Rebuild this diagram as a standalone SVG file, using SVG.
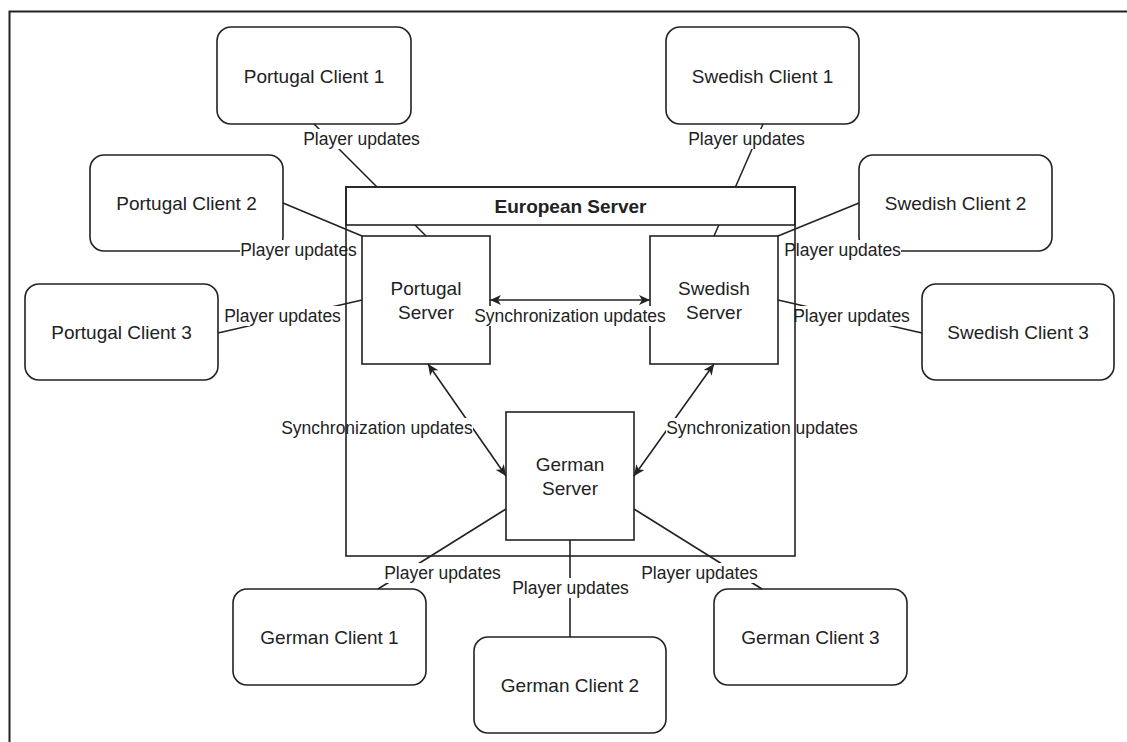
<svg xmlns="http://www.w3.org/2000/svg" width="1127" height="742" viewBox="0 0 1127 742">
  <style>
    .box { fill: #fff; stroke: #222; stroke-width: 1.6; }
    .client { fill: #fff; stroke: #222; stroke-width: 1.6; }
    .node-text { font-family: "Liberation Sans", Arial, sans-serif; font-size: 19px; fill: #222; text-anchor: middle; dominant-baseline: central; }
    .title { font-family: "Liberation Sans", Arial, sans-serif; font-size: 19px; font-weight: bold; fill: #222; text-anchor: middle; dominant-baseline: central; }
    .edge { stroke: #222; stroke-width: 1.6; fill: none; }
    .sync { stroke: #222; stroke-width: 1.6; fill: none; marker-start: url(#arrow); marker-end: url(#arrow); }
    .lbl { font-family: "Liberation Sans", Arial, sans-serif; font-size: 17.5px; fill: #222; text-anchor: middle; dominant-baseline: central; }
    .lbl-bg { fill: #fff; }
  </style>
  <defs>
    <marker id="arrow" viewBox="0 0 12 10" refX="11" refY="5" markerWidth="12" markerHeight="10" markerUnits="userSpaceOnUse" orient="auto-start-reverse">
      <path d="M0,0 L11,5 L0,10 L3,5 Z" fill="#222"/>
    </marker>
  </defs>

  <rect width="1127" height="742" fill="#fff"/>
  <!-- page frame -->
  <path d="M9.5,742 V11.5 H1127" fill="none" stroke="#222" stroke-width="2"/>

  <!-- clients -->
  <g id="portugal-client-1"><rect class="client" x="217" y="27" width="194" height="97" rx="14"/><text class="node-text" x="314" y="76">Portugal Client 1</text></g>
  <g id="portugal-client-2"><rect class="client" x="90" y="155" width="193" height="96" rx="14"/><text class="node-text" x="186.5" y="203">Portugal Client 2</text></g>
  <g id="portugal-client-3"><rect class="client" x="25" y="284" width="193" height="96" rx="14"/><text class="node-text" x="121.5" y="332">Portugal Client 3</text></g>
  <g id="swedish-client-1"><rect class="client" x="666" y="27" width="193" height="97" rx="14"/><text class="node-text" x="762.5" y="76">Swedish Client 1</text></g>
  <g id="swedish-client-2"><rect class="client" x="859" y="155" width="193" height="96" rx="14"/><text class="node-text" x="955.5" y="203">Swedish Client 2</text></g>
  <g id="swedish-client-3"><rect class="client" x="922" y="284" width="192" height="96" rx="14"/><text class="node-text" x="1018" y="332">Swedish Client 3</text></g>
  <g id="german-client-1"><rect class="client" x="233" y="589" width="193" height="96" rx="14"/><text class="node-text" x="329.5" y="637">German Client 1</text></g>
  <g id="german-client-2"><rect class="client" x="474" y="637" width="192" height="96" rx="14"/><text class="node-text" x="570" y="685">German Client 2</text></g>
  <g id="german-client-3"><rect class="client" x="714" y="589" width="193" height="96" rx="14"/><text class="node-text" x="810.5" y="637">German Client 3</text></g>

  <!-- regional servers -->
  <g id="portugal-server"><rect class="box" x="362" y="236" width="128" height="128"/><text class="node-text" x="426" y="288">Portugal</text><text class="node-text" x="426" y="312">Server</text></g>
  <g id="swedish-server"><rect class="box" x="650" y="236" width="128" height="128"/><text class="node-text" x="714" y="288">Swedish</text><text class="node-text" x="714" y="312">Server</text></g>
  <g id="german-server"><rect class="box" x="506" y="412" width="128" height="128"/><text class="node-text" x="570" y="464">German</text><text class="node-text" x="570" y="488">Server</text></g>

  <!-- connectors -->
  <g id="connectors">
    <line class="edge" x1="314" y1="124" x2="426" y2="236"/>
    <line class="edge" x1="763" y1="124" x2="714" y2="236"/>
    <line class="edge" x1="283" y1="203" x2="362" y2="236"/>
    <line class="edge" x1="859" y1="203" x2="778" y2="236"/>
    <line class="edge" x1="218" y1="333" x2="362" y2="300"/>
    <line class="edge" x1="778" y1="300" x2="922" y2="333"/>
    <line class="edge" x1="506" y1="509" x2="378" y2="589"/>
    <line class="edge" x1="570" y1="540" x2="570" y2="637"/>
    <line class="edge" x1="634" y1="509" x2="762" y2="589"/>
    <line class="sync" x1="490" y1="300" x2="650" y2="300"/>
    <line class="sync" x1="428" y1="364" x2="506" y2="476"/>
    <line class="sync" x1="714" y1="364" x2="634" y2="476"/>

    <!-- edge labels -->
    <rect class="lbl-bg" x="303" y="129" width="117" height="20"/><text class="lbl" x="361.5" y="139">Player updates</text>
    <rect class="lbl-bg" x="688" y="129" width="117" height="20"/><text class="lbl" x="746.5" y="139">Player updates</text>
    <rect class="lbl-bg" x="240" y="240" width="117" height="20"/><text class="lbl" x="298.5" y="250">Player updates</text>
    <rect class="lbl-bg" x="784" y="240" width="117" height="20"/><text class="lbl" x="842.5" y="250">Player updates</text>
    <rect class="lbl-bg" x="224" y="306" width="117" height="20"/><text class="lbl" x="282.5" y="316">Player updates</text>
    <rect class="lbl-bg" x="793" y="306" width="117" height="20"/><text class="lbl" x="851.5" y="316">Player updates</text>
    <rect class="lbl-bg" x="474" y="306" width="192" height="20"/><text class="lbl" x="570" y="316">Synchronization updates</text>
    <rect class="lbl-bg" x="281" y="418" width="192" height="20"/><text class="lbl" x="377" y="428">Synchronization updates</text>
    <rect class="lbl-bg" x="666" y="418" width="192" height="20"/><text class="lbl" x="762" y="428">Synchronization updates</text>
    <rect class="lbl-bg" x="384" y="563" width="117" height="20"/><text class="lbl" x="442.5" y="573">Player updates</text>
    <rect class="lbl-bg" x="512" y="578" width="117" height="20"/><text class="lbl" x="570.5" y="588">Player updates</text>
    <rect class="lbl-bg" x="641" y="563" width="117" height="20"/><text class="lbl" x="699.5" y="573">Player updates</text>
  </g>

  <!-- container: title bar is filled, body is open -->
  <g id="european-server">
    <rect x="346" y="187" width="449" height="38" fill="#fff" stroke="#222" stroke-width="1.6"/>
    <rect x="346" y="187" width="449" height="369" fill="none" stroke="#222" stroke-width="1.6"/>
    <text class="title" x="570.5" y="206">European Server</text>
  </g>
</svg>
